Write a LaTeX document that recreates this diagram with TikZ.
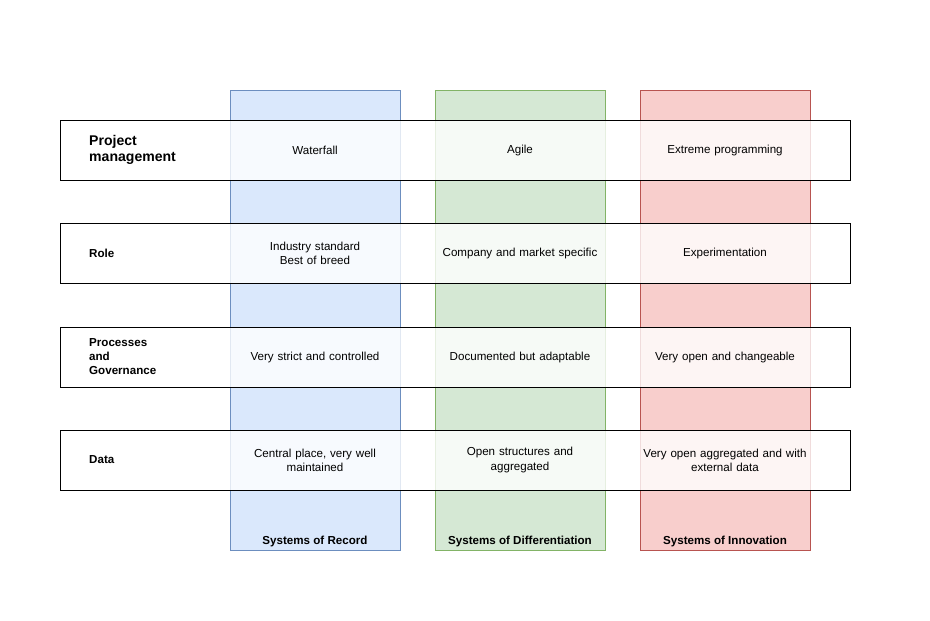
\documentclass[tikz,border=0pt]{standalone}
\usepackage{fontspec}
\setmainfont{Liberation Sans}
\definecolor{recfill}{HTML}{DAE8FC}\definecolor{recline}{HTML}{6C8EBF}
\definecolor{diffill}{HTML}{D5E8D4}\definecolor{difline}{HTML}{82B366}
\definecolor{innfill}{HTML}{F8CECC}\definecolor{innline}{HTML}{B85450}
\begin{document}
\begin{tikzpicture}[x=0.02cm,y=-0.02cm,font=\fontsize{6.6}{8}\selectfont,
                    rowbox/.style={draw=black,fill=white,fill opacity=0.8,line width=0.4pt},
                    cell/.style={align=center,text width=3.3cm},
                    head/.style={align=left,anchor=west,font=\fontsize{6.6}{8}\selectfont\bfseries},
                    foot/.style={font=\fontsize{6.6}{8}\selectfont\bfseries}]
  \useasboundingbox (0,0) rectangle (930,620);

  % columns
  \draw[fill=recfill,draw=recline] (230,90) rectangle (400,550);
  \draw[fill=diffill,draw=difline] (435,90) rectangle (605,550);
  \draw[fill=innfill,draw=innline] (640,90) rectangle (810,550);

  % rows
  \foreach \y in {120,223,327,430}
    \draw[rowbox] (60,\y) rectangle (850,\y+60);

  \node[head,font=\fontsize{8}{9.5}\selectfont\bfseries] (pm) at (83,150) {Project\\management};
  \node[head] (role) at (83,253) {Role};
  \node[head] (proc) at (83,357) {Processes\\and\\Governance};
  \node[head] (data) at (83,460) {Data};

  \node[cell] (pm1) at (315,150) {Waterfall};
  \node[cell] (pm2) at (520,150) {Agile};
  \node[cell] (pm3) at (725,150) {Extreme programming};
  \node[cell] (ro1) at (315,253) {Industry standard\\Best of breed};
  \node[cell] (ro2) at (520,253) {Company and market specific};
  \node[cell] (ro3) at (725,253) {Experimentation};
  \node[cell] (pr1) at (315,357) {Very strict and controlled};
  \node[cell] (pr2) at (520,357) {Documented but adaptable};
  \node[cell] (pr3) at (725,357) {Very open and changeable};
  \node[cell] (da1) at (315,460) {Central place, very well\\maintained};
  \node[cell] (da2) at (520,460) {Open structures and\\aggregated};
  \node[cell] (da3) at (725,460) {Very open aggregated and with\\external data};

  \node[foot] (rec) at (315,541) {Systems of Record};
  \node[foot] (dif) at (520,541) {Systems of Differentiation};
  \node[foot] (inn) at (725,541) {Systems of Innovation};
\end{tikzpicture}
\end{document}
